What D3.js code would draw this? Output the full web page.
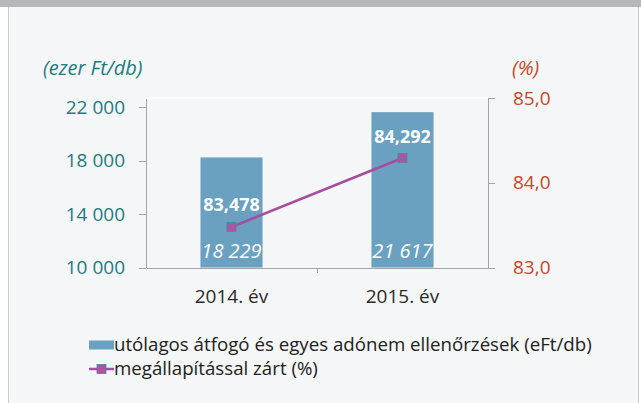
<!DOCTYPE html>
<html lang='hu'>
  <head>
    <meta charset='utf-8'>
    <title>Ellenőrzések</title>
    <script type='text/javascript' src='https://cdn.jsdelivr.net/npm/d3@7/dist/d3.min.js'></script>
    <style type='text/css'>
    body{ margin: 0; background: #fff; }
    svg text{ font-family: 'Open Sans', 'Noto Sans', sans-serif; }
    .axis path,
    .axis line{
      fill: none;
      stroke: #a3a5a8;
      shape-rendering: crispEdges;
    }
    .yl text{ fill: #1f7b80; font-size: 19px; }
    .yr text{ fill: #c8452b; font-size: 19px; }
    </style>
  </head>
  <body>
    <script type='text/javascript'>

    var w = 641;
    var h = 403;

    // data
    var years = ['2014. év', '2015. év'];
    var amounts = [18229, 21617];          // eFt/db
    var rates = [83.478, 84.292];          // %
    var leftTicks = [10000, 14000, 18000, 22000];
    var rightTicks = [83, 84, 85];
    var legendLabels = ['utólagos átfogó és egyes adónem ellenőrzések (eFt/db)',
                        'megállapítással zárt (%)'];

    var hu = d3.formatLocale({decimal: ',', thousands: ' ', grouping: [3], currency: ['', '']});
    var fmtThousands = hu.format(',d');
    var fmtOne = hu.format('.1f');
    var fmtThree = hu.format('.3f');

    var plotLeft = 146, plotRight = 488, plotTop = 98, plotBottom = 267.5;
    var barColor = '#6aa0c0';
    var lineColor = '#a64ca2';

    var svg = d3.select('body')
                .append('svg')
                .attr('width', w)
                .attr('height', h);

    // panel background and frame
    svg.append('rect').attr('x', 0).attr('y', 0).attr('width', w).attr('height', h).attr('fill', '#fff');
    svg.append('rect').attr('x', 8.5).attr('y', 0).attr('width', 630).attr('height', h + 5)
       .attr('fill', '#f4f6f7').attr('stroke', '#c9cacc');
    svg.append('rect').attr('x', 0).attr('y', 0).attr('width', w).attr('height', 7).attr('fill', '#b7b8bc');

    var xScale = d3.scaleBand()
                   .domain(years)
                   .range([plotLeft, plotRight])
                   .paddingInner(0.637)
                   .paddingOuter(0.3185);

    var yLeft = d3.scaleLinear()
                  .domain([10000, 22675])
                  .range([plotBottom, plotTop]);

    var yRight = d3.scaleLinear()
                   .domain([83, 85])
                   .range([plotBottom, plotTop]);

    // white top line of plot area
    svg.append('line')
       .attr('x1', plotLeft).attr('x2', plotRight)
       .attr('y1', plotTop).attr('y2', plotTop)
       .attr('stroke', '#ffffff').attr('stroke-width', 1.5);

    // bars
    svg.selectAll('rect.bar')
       .data(amounts)
       .enter()
       .append('rect')
       .attr('class', 'bar')
       .attr('x', function(d, i){ return xScale(years[i]); })
       .attr('y', function(d){ return yLeft(d); })
       .attr('width', xScale.bandwidth())
       .attr('height', function(d){ return plotBottom - yLeft(d); })
       .attr('fill', barColor);

    // axes
    var yAxisL = d3.axisLeft(yLeft)
                   .tickValues(leftTicks)
                   .tickSizeInner(7)
                   .tickSizeOuter(0)
                   .tickPadding(14)
                   .tickFormat(fmtThousands);

    var yAxisR = d3.axisRight(yRight)
                   .tickValues(rightTicks)
                   .tickSizeInner(7)
                   .tickSizeOuter(0)
                   .tickPadding(18)
                   .tickFormat(fmtOne);

    var xLin = d3.scaleLinear().domain([0, years.length]).range([plotLeft, plotRight]);
    var xAxis = d3.axisBottom(xLin)
                  .tickValues([1])
                  .tickSizeInner(5)
                  .tickSizeOuter(0)
                  .tickFormat('');

    svg.append('g')
       .attr('class', 'x axis')
       .attr('transform', 'translate(0,' + plotBottom + ')')
       .call(xAxis);

    svg.append('g')
       .attr('class', 'yl axis')
       .attr('transform', 'translate(' + plotLeft + ',0)')
       .call(yAxisL);

    svg.append('g')
       .attr('class', 'yr axis')
       .attr('transform', 'translate(' + plotRight + ',0)')
       .call(yAxisR);

    // unit titles
    svg.append('text')
       .attr('x', 43).attr('y', 75)
       .attr('fill', '#1f7b80')
       .style('font-size', '20px')
       .style('font-style', 'italic')
       .text('(ezer Ft/db)');

    svg.append('text')
       .attr('x', 512).attr('y', 75)
       .attr('fill', '#c8452b')
       .style('font-size', '20px')
       .style('font-style', 'italic')
       .text('(%)');

    // category labels
    svg.selectAll('text.cat')
       .data(years)
       .enter()
       .append('text')
       .attr('class', 'cat')
       .attr('x', function(d){ return xScale(d) + xScale.bandwidth() / 2; })
       .attr('y', 303)
       .attr('text-anchor', 'middle')
       .attr('fill', '#2b2b2b')
       .style('font-size', '19px')
       .text(function(d){ return d; });

    // line series
    var line = d3.line()
                 .x(function(d, i){ return xScale(years[i]) + xScale.bandwidth() / 2; })
                 .y(function(d){ return yRight(d); });

    svg.append('path')
       .datum(rates)
       .attr('d', line)
       .attr('fill', 'none')
       .attr('stroke', lineColor)
       .attr('stroke-width', 2.5);

    svg.selectAll('rect.marker')
       .data(rates)
       .enter()
       .append('rect')
       .attr('class', 'marker')
       .attr('x', function(d, i){ return xScale(years[i]) + xScale.bandwidth() / 2 - 4.5; })
       .attr('y', function(d){ return yRight(d) - 4.5; })
       .attr('width', 9).attr('height', 9)
       .attr('fill', '#ab55a4')
       .attr('stroke', '#3f8f92')
       .attr('stroke-width', 0.8);

    // rate labels
    svg.selectAll('text.rate')
       .data(rates)
       .enter()
       .append('text')
       .attr('class', 'rate')
       .attr('x', function(d, i){ return xScale(years[i]) + xScale.bandwidth() / 2; })
       .attr('y', function(d){ return yRight(d) - 15.5; })
       .attr('text-anchor', 'middle')
       .attr('fill', '#ffffff')
       .style('font-size', '18px')
       .style('font-weight', 'bold')
       .text(function(d){ return fmtThree(d); });

    // amount labels
    svg.selectAll('text.amt')
       .data(amounts)
       .enter()
       .append('text')
       .attr('class', 'amt')
       .attr('x', function(d, i){ return xScale(years[i]) + xScale.bandwidth() / 2; })
       .attr('y', plotBottom - 10)
       .attr('text-anchor', 'middle')
       .attr('fill', '#ffffff')
       .style('font-size', '20px')
       .style('font-style', 'italic')
       .text(function(d){ return fmtThousands(d); });

    // legend
    var lg = svg.append('g').attr('transform', 'translate(89,0)');

    lg.append('rect')
      .attr('x', 0).attr('y', 340.5)
      .attr('width', 25).attr('height', 9)
      .attr('fill', barColor);

    lg.append('line')
      .attr('x1', 0).attr('x2', 25)
      .attr('y1', 369).attr('y2', 369)
      .attr('stroke', lineColor).attr('stroke-width', 2.5);

    lg.append('rect')
      .attr('x', 8).attr('y', 364.5)
      .attr('width', 9).attr('height', 9)
      .attr('fill', '#ab55a4')
      .attr('stroke', '#3f8f92')
      .attr('stroke-width', 0.8);

    lg.selectAll('text.leg')
      .data(legendLabels)
      .enter()
      .append('text')
      .attr('class', 'leg')
      .attr('x', 25)
      .attr('y', function(d, i){ return 351 + i * 24; })
      .attr('fill', '#222')
      .style('font-size', '18.7px')
      .text(function(d){ return d; });

    </script>
  </body>
</html>
